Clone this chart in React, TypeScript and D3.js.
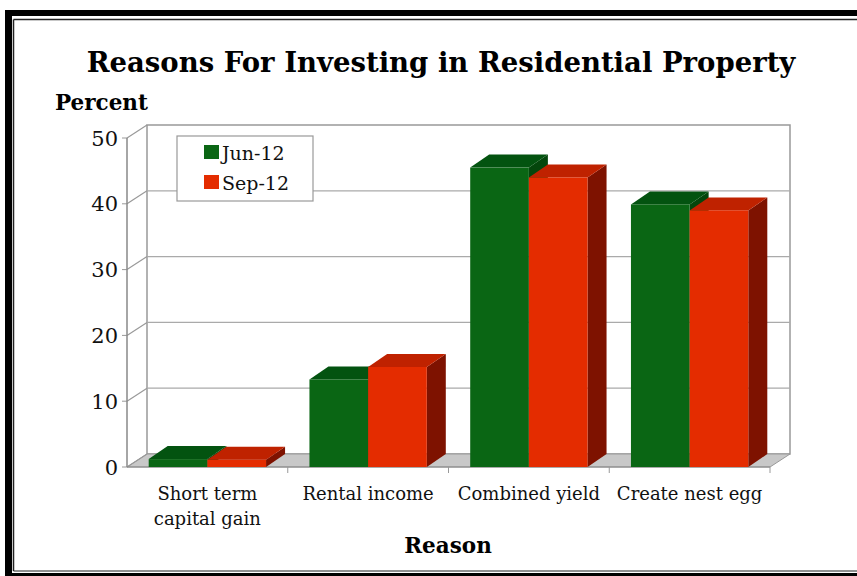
import React from "react";
import * as d3 from "d3";

const categories: string[][] = [
  ["Short term", "capital gain"],
  ["Rental income"],
  ["Combined yield"],
  ["Create nest egg"],
];
const seriesNames = ["Jun-12", "Sep-12"];
const jun12 = [1.2, 13.3, 45.5, 39.9];
const sep12 = [1.1, 15.2, 44.0, 39.0];
const yTicks = [0, 10, 20, 30, 40, 50];

const FRONT = ["#0a6614", "#e42c00"];
const TOP = ["#035310", "#bf2200"];
const SIDE = ["#04460c", "#7e1200"];

export default function App() {
  const W = 857, H = 576;
  const left = 127, right = 770, y0 = 467, y50 = 138;
  const WDX = 20, WDY = -13; // wall depth
  const BDX = 19, BDY = -13; // bar depth
  const font = "'DejaVu Serif', serif";

  const y = d3.scaleLinear().domain([0, 50]).range([y0, y50]);
  const keys = categories.map((_, i) => String(i));
  const x = d3.scaleBand<string>().domain(keys).range([left, right]).paddingInner(0.27).paddingOuter(0.135);
  const xs = d3.scaleBand<number>().domain([0, 1]).range([0, x.bandwidth()]);
  const series = [jun12, sep12];

  const pts = (p: number[][]) => p.map((q) => q.join(",")).join(" ");

  const bars: JSX.Element[] = [];
  keys.forEach((k, ci) => {
    series.forEach((vals, si) => {
      const bx = (x(k) as number) + (xs(si) as number);
      const bw = xs.bandwidth();
      const top = y(vals[ci]);
      const bot = y(0);
      bars.push(
        <g key={`b${ci}-${si}`}>
          <polygon points={pts([[bx + bw, top], [bx + bw + BDX, top + BDY], [bx + bw + BDX, bot + BDY], [bx + bw, bot]])} fill={SIDE[si]} />
          <polygon points={pts([[bx, top], [bx + BDX, top + BDY], [bx + bw + BDX, top + BDY], [bx + bw, top]])} fill={TOP[si]} />
          <rect x={bx} y={top} width={bw} height={bot - top} fill={FRONT[si]} />
        </g>
      );
    });
  });

  const bandEdges = keys.map((k) => (x(k) as number) - (x.step() * x.paddingInner()) / 2).slice(1).concat([right]);

  return (
    <svg width={W} height={H} style={{ position: "absolute", left: 0, top: 0, background: "#fff" }}>
      <rect x={0} y={0} width={W} height={H} fill="#fff" />
      {/* frame */}
      <rect x={5} y={10} width={7} height={H} fill="#000" />
      <rect x={5} y={10} width={W} height={6} fill="#000" />
      <rect x={5} y={573} width={W} height={6} fill="#000" />
      <line x1={13.5} y1={19.5} x2={13.5} y2={571} stroke="#222" strokeWidth={1.5} />
      <line x1={13.5} y1={19.5} x2={W} y2={19.5} stroke="#222" strokeWidth={1.5} />
      <line x1={13.5} y1={571} x2={W} y2={571} stroke="#222" strokeWidth={1} />

      {/* title */}
      <text x={441} y={72} textAnchor="middle" fontFamily={font} fontWeight="bold" fontSize={27.5} fill="#000">
        Reasons For Investing in Residential Property
      </text>
      <text x={55} y={110} fontFamily={font} fontWeight="bold" fontSize={21.5} fill="#000">Percent</text>

      {/* back wall */}
      <rect x={left + WDX} y={y50 + WDY} width={right - left} height={y0 - y50} fill="#fff" stroke="#999" strokeWidth={1.5} />
      {/* floor */}
      <polygon points={pts([[left, y0], [left + WDX, y0 + WDY], [right + WDX, y0 + WDY], [right, y0]])} fill="#c8c8c8" stroke="#999" strokeWidth={1} />
      {/* gridlines */}
      {yTicks.map((t) => (
        <g key={`g${t}`}>
          {t > 0 && t < 50 && (
            <line x1={left + WDX} x2={right + WDX} y1={y(t) + WDY} y2={y(t) + WDY} stroke="#aaa" strokeWidth={1.2} />
          )}
          <line x1={left} y1={y(t)} x2={left + WDX} y2={y(t) + WDY} stroke="#999" strokeWidth={1.2} />
          <line x1={left - 5} x2={left} y1={y(t)} y2={y(t)} stroke="#999" strokeWidth={1} />
          <text x={118} y={y(t) + 7.5} textAnchor="end" fontFamily={font} fontSize={21} fill="#111">{t}</text>
        </g>
      ))}
      {/* left axis */}
      <line x1={left} x2={left} y1={y50} y2={y0} stroke="#888" strokeWidth={1.5} />
      <line x1={left} x2={right} y1={y0} y2={y0} stroke="#888" strokeWidth={1.2} />
      {bandEdges.map((e, i) => (
        <line key={`t${i}`} x1={e} x2={e} y1={y0} y2={y0 + 6} stroke="#999" strokeWidth={1} />
      ))}

      {bars}

      {/* legend */}
      <rect x={177} y={136} width={136} height={65} fill="#fff" stroke="#999" strokeWidth={1.2} />
      {seriesNames.map((s, i) => (
        <g key={s}>
          <rect x={204} y={145 + i * 30} width={15} height={14} fill={FRONT[i]} />
          <text x={222} y={160 + i * 30} fontFamily={font} fontSize={19} fill="#111">{s}</text>
        </g>
      ))}

      {/* category labels */}
      {categories.map((lines, i) => (
        <text key={`c${i}`} textAnchor="middle" fontFamily={font} fontSize={18} fill="#111">
          {lines.map((l, j) => (
            <tspan key={j} x={(x(String(i)) as number) + x.bandwidth() / 2} y={500 + j * 25}>{l}</tspan>
          ))}
        </text>
      ))}
      <text x={448} y={553} textAnchor="middle" fontFamily={font} fontWeight="bold" fontSize={21.5} fill="#000">Reason</text>
    </svg>
  );
}
